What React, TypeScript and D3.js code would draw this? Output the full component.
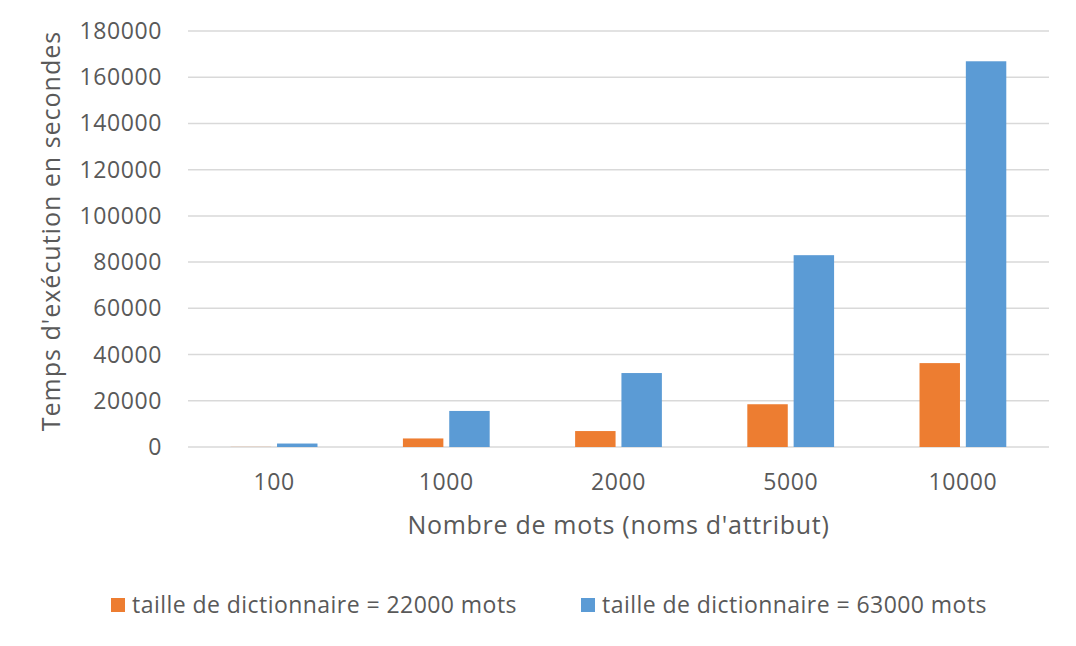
import React from 'react';
import * as d3 from 'd3';

const categories = ['100', '1000', '2000', '5000', '10000'];
const seriesNames = ['taille de dictionnaire = 22000 mots', 'taille de dictionnaire = 63000 mots'];
const dict22000 = [50, 3700, 6900, 18500, 36300];
const dict63000 = [1500, 15600, 32000, 83000, 166900];
const yTicks = [0, 20000, 40000, 60000, 80000, 100000, 120000, 140000, 160000, 180000];
const colors = ['#ED7D31', '#5B9BD5'];

const W = 1076;
const H = 646;
const margin = {left: 188, right: 27, top: 31, bottom: 199};
const font = '"Open Sans", sans-serif';
const textColor = '#595959';

export default function App() {
    const innerW = W - margin.left - margin.right;
    const innerH = H - margin.top - margin.bottom;

    const x = d3.scaleBand().domain(categories).range([0, innerW]);
    const y = d3.scaleLinear().domain([0, 180000]).range([innerH, 0]);

    // two bars per group, Excel-like gap width of 100%
    const barW = x.bandwidth() * 0.22;
    const inner = d3.scaleBand().domain(seriesNames).range([-barW - 5.5, barW + 5.5]).paddingInner(11 / (2 * barW + 11));
    const series = [dict22000, dict63000];

    return (
        <svg width={W} height={H} style={{position: 'absolute', left: 0, top: 0, background: '#fff'}}>
            <g transform={`translate(${margin.left},${margin.top})`}>
                {yTicks.map(t => (
                    <g key={t}>
                        <line x1={0} x2={innerW} y1={y(t)} y2={y(t)} stroke="#D9D9D9" strokeWidth={1.5}/>
                        <text x={-26} y={y(t)} dy="0.35em" textAnchor="end" fontFamily={font} fontSize={23}
                              letterSpacing={0.6} fill={textColor}>{t}</text>
                    </g>
                ))}
                {series.map((vals, si) => vals.map((v, ci) => {
                    const cx = (x(categories[ci]) as number) + x.bandwidth() / 2;
                    return (
                        <rect key={si + '-' + ci}
                              x={cx + (inner(seriesNames[si]) as number)}
                              y={y(v)}
                              width={inner.bandwidth()}
                              height={innerH - y(v)}
                              fill={colors[si]}/>
                    );
                }))}
                {categories.map(c => (
                    <text key={c} x={(x(c) as number) + x.bandwidth() / 2} y={innerH + 43}
                          textAnchor="middle" fontFamily={font} fontSize={23} letterSpacing={0.6} fill={textColor}>{c}</text>
                ))}
                <text x={innerW / 2} y={innerH + 87} textAnchor="middle" fontFamily={font} fontSize={25}
                      letterSpacing={0.7} fill={textColor}>
                    Nombre de mots (noms d'attribut)
                </text>
                <text transform={`translate(${-128},${innerH / 2 - 8}) rotate(-90)`} textAnchor="middle"
                      fontFamily={font} fontSize={25} letterSpacing={1} fill={textColor}>
                    Temps d'exécution en secondes
                </text>
            </g>
            {seriesNames.map((s, i) => (
                <g key={s} transform={`translate(${i === 0 ? 111 : 581},598)`}>
                    <rect width={14} height={14} fill={colors[i]}/>
                    <text x={21} y={7} dy="0.35em" fontFamily={font} fontSize={23} letterSpacing={0.45}
                          fill={textColor}>{s}</text>
                </g>
            ))}
        </svg>
    );
}
